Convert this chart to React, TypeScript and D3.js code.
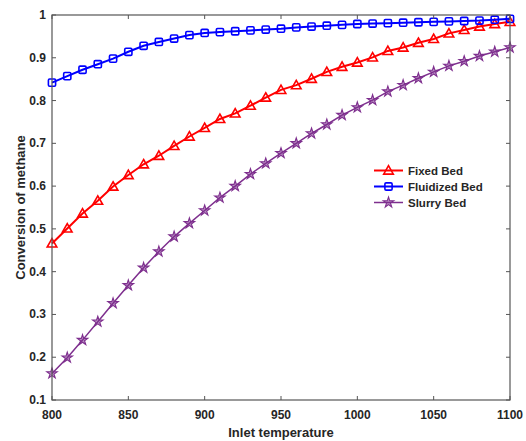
import React from "react";
import * as d3 from "d3";

const temps = d3.range(800, 1101, 10);

const fixedBed = [
  0.466, 0.501, 0.536, 0.566, 0.599, 0.626, 0.651, 0.671, 0.694, 0.716, 0.736,
  0.757, 0.770, 0.788, 0.807, 0.825, 0.836, 0.851, 0.867, 0.879, 0.889, 0.901,
  0.916, 0.924, 0.935, 0.944, 0.957, 0.965, 0.973, 0.979, 0.984,
];

const fluidizedBed = [
  0.842, 0.857, 0.872, 0.885, 0.898, 0.914, 0.928, 0.937, 0.945, 0.953, 0.958,
  0.960, 0.962, 0.964, 0.966, 0.968, 0.971, 0.973, 0.975, 0.977, 0.979, 0.980,
  0.981, 0.982, 0.983, 0.984, 0.985, 0.986, 0.987, 0.989, 0.991,
];

const slurryBed = [
  0.162, 0.199, 0.240, 0.283, 0.326, 0.368, 0.409, 0.447, 0.482, 0.513, 0.543,
  0.573, 0.600, 0.628, 0.653, 0.677, 0.700, 0.723, 0.744, 0.766, 0.784, 0.801,
  0.821, 0.836, 0.852, 0.867, 0.881, 0.892, 0.904, 0.914, 0.924,
];

const xTicks = [800, 850, 900, 950, 1000, 1050, 1100];
const yTicks = [0.1, 0.2, 0.3, 0.4, 0.5, 0.6, 0.7, 0.8, 0.9, 1];

const series = [
  { name: "Fixed Bed", values: fixedBed, color: "#ff0000", marker: "triangle" },
  { name: "Fluidized Bed", values: fluidizedBed, color: "#0000ff", marker: "square" },
  { name: "Slurry Bed", values: slurryBed, color: "#7e2f8e", marker: "star" },
];

const W = 526;
const H = 441;
const margin = { top: 15, right: 16, bottom: 41, left: 52 };
const font = "Arial, 'Liberation Sans', sans-serif";
const axisColor = "#555";
const textColor = "#262626";

function Marker({ type, x, y, color }: { type: string; x: number; y: number; color: string }) {
  if (type === "triangle") {
    const s = 4.8;
    return (
      <path
        d={`M${x},${y - s}L${x + s},${y + s * 0.75}L${x - s},${y + s * 0.75}Z`}
        fill="none"
        stroke={color}
        strokeWidth={1.6}
      />
    );
  }
  if (type === "square") {
    return (
      <rect x={x - 3.6} y={y - 3.6} width={7.2} height={7.2} rx={1.2} fill="none" stroke={color} strokeWidth={1.6} />
    );
  }
  const d = d3.symbol(d3.symbolStar, 34)() as string;
  return <path d={d} transform={`translate(${x},${y})`} fill={color} fillOpacity={0.55} stroke={color} strokeWidth={1.1} />;
}

export default function App() {
  const x = d3.scaleLinear().domain([800, 1100]).range([margin.left, W - margin.right]);
  const y = d3.scaleLinear().domain([0.1, 1]).range([H - margin.bottom, margin.top]);
  const line = d3
    .line<number>()
    .x((_, i) => x(temps[i]))
    .y((d) => y(d));

  const x0 = x.range()[0];
  const x1 = x.range()[1];
  const y0 = y.range()[0];
  const y1 = y.range()[1];
  const tl = 4;

  return (
    <svg width={W} height={H} style={{ position: "absolute", left: 0, top: 0, background: "#fff" }}>
      <rect x={0} y={0} width={W} height={H} fill="#fff" />
      {/* curves */}
      {series.map((s) => (
        <g key={s.name}>
          <path
            d={line(s.values) as string}
            fill="none"
            stroke={s.color}
            strokeWidth={s.marker === "star" ? 1.5 : 2}
          />
          {s.values.map((v, i) => (
            <Marker key={i} type={s.marker} x={x(temps[i])} y={y(v)} color={s.color} />
          ))}
        </g>
      ))}
      {/* box and ticks */}
      <rect x={x0} y={y1} width={x1 - x0} height={y0 - y1} fill="none" stroke={axisColor} strokeWidth={1.2} />
      {xTicks.map((t) => (
        <g key={t}>
          <line x1={x(t)} x2={x(t)} y1={y0} y2={y0 - tl} stroke={axisColor} />
          <line x1={x(t)} x2={x(t)} y1={y1} y2={y1 + tl} stroke={axisColor} />
          <text
            x={x(t)}
            y={y0 + 19}
            textAnchor="middle"
            fontFamily={font}
            fontWeight="bold"
            fontSize={12}
            fill={textColor}
          >
            {t}
          </text>
        </g>
      ))}
      {yTicks.map((t) => (
        <g key={t}>
          <line x1={x0} x2={x0 + tl} y1={y(t)} y2={y(t)} stroke={axisColor} />
          <line x1={x1} x2={x1 - tl} y1={y(t)} y2={y(t)} stroke={axisColor} />
          <text
            x={x0 - 6}
            y={y(t) + 4}
            textAnchor="end"
            fontFamily={font}
            fontWeight="bold"
            fontSize={12}
            fill={textColor}
          >
            {d3.format("~g")(t)}
          </text>
        </g>
      ))}
      {/* axis labels */}
      <text
        x={(x0 + x1) / 2}
        y={H - 4}
        textAnchor="middle"
        fontFamily={font}
        fontWeight="bold"
        fontSize={13}
        fill={textColor}
      >
        Inlet temperature
      </text>
      <text
        transform={`translate(${25},${(y0 + y1) / 2}) rotate(-90)`}
        textAnchor="middle"
        fontFamily={font}
        fontWeight="bold"
        fontSize={13}
        fill={textColor}
      >
        Conversion of methane
      </text>
      {/* legend */}
      {series.map((s, i) => {
        const ly = 170.5 + i * 16;
        return (
          <g key={s.name}>
            <line x1={374} x2={403} y1={ly} y2={ly} stroke={s.color} strokeWidth={s.marker === "star" ? 1.5 : 2} />
            <Marker type={s.marker} x={388.5} y={ly} color={s.color} />
            <text x={408} y={ly + 4} fontFamily={font} fontWeight="bold" fontSize={11.5} fill={textColor}>
              {s.name}
            </text>
          </g>
        );
      })}
    </svg>
  );
}
